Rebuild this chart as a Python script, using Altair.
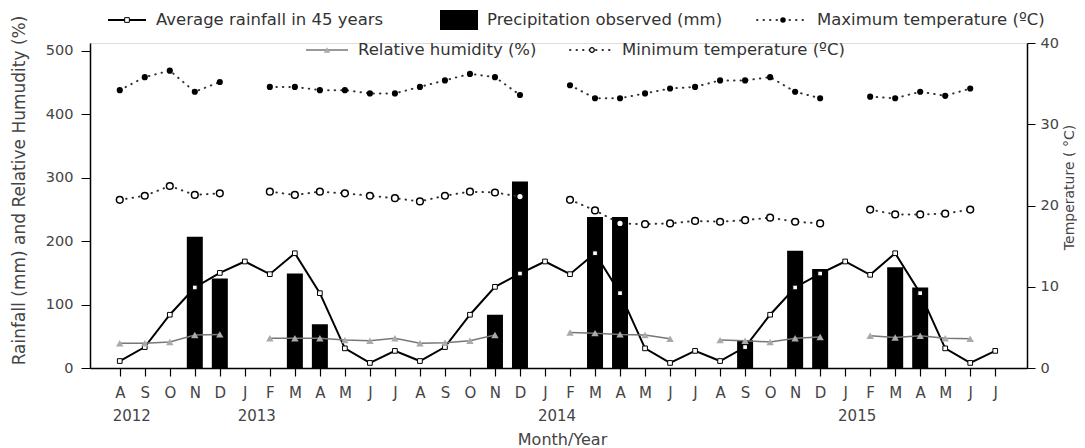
import altair as alt
import pandas as pd

# ---------------- data ----------------
months = ["A", "S", "O", "N", "D",
          "J", "F", "M", "A", "M", "J", "J", "A", "S", "O", "N", "D",
          "J", "F", "M", "A", "M", "J", "J", "A", "S", "O", "N", "D",
          "J", "F", "M", "A", "M", "J", "J"]
years = ["2012", "2013", "2014", "2015"]
year_at = [0, 5, 17, 29]

avg_rain = [11, 33, 84, 127, 150,
            168, 148, 181, 118, 31, 8, 27, 11, 33, 84, 128, 149,
            168, 148, 181, 118, 31, 8, 27, 11, 33, 84, 127, 149,
            168, 147, 181, 118, 31, 8, 27]
precip = [None, None, None, 207, 141,
          None, None, 149, 69, None, None, None, None, None, None, 84, 294,
          None, None, 238, 238, None, None, None, None, 44, None, 185, 156,
          None, None, 159, 127, None, None, None]
max_temp = [34.2, 35.8, 36.6, 34.0, 35.2,
            None, 34.6, 34.6, 34.2, 34.2, 33.8, 33.8, 34.6, 35.4, 36.2, 35.8, 33.6,
            None, 34.8, 33.2, 33.2, 33.8, 34.4, 34.6, 35.4, 35.4, 35.8, 34.0, 33.2,
            None, 33.4, 33.2, 34.0, 33.5, 34.4, None]
min_temp = [20.7, 21.2, 22.4, 21.3, 21.5,
            None, 21.7, 21.3, 21.7, 21.5, 21.2, 20.9, 20.5, 21.2, 21.7, 21.6, 21.1,
            None, 20.7, 19.4, 17.8, 17.7, 17.8, 18.1, 18.0, 18.2, 18.5, 18.0, 17.8,
            None, 19.5, 18.9, 18.9, 19.0, 19.5, None]
rel_hum = [39, 39, 41, 52, 53,
           None, 47, 47, 47, 44, 43, 47, 39, 40, 43, 52, None,
           None, 56, 55, 53, 52, 46, None, 44, 43, 41, 47, 49,
           None, 51, 48, 51, 47, 46, None]

FONT = "DejaVu Sans"
W, H = 937, 325


def series_df(vals):
    rows, seg = [], 0
    for i, v in enumerate(vals):
        if v is None:
            seg += 1
            continue
        rows.append({"k": i, "v": v, "seg": seg})
    return pd.DataFrame(rows)


label_expr = "[" + ",".join("'%s'" % m for m in months) + "][datum.value]"

xscale = alt.Scale(domain=[-0.99, 36.07], nice=False, zero=False)
xaxis = alt.Axis(values=list(range(len(months))), labelExpr=label_expr,
                 tickSize=8, tickColor="black", domainColor="black", domainWidth=1.5,
                 tickWidth=1.2, labelFontSize=15, labelColor="#444", labelPadding=9,
                 labelOverlap=False, labelFlush=False, labelAngle=0, grid=False,
                 title="Month/Year", titleFontSize=16, titleFontWeight="normal",
                 titleColor="#444", titleX=472, titleY=71, titleAlign="center",
                 titleBaseline="middle")


def X():
    return alt.X("k:Q", scale=xscale, axis=xaxis)


yscaleL = alt.Scale(domain=[0, 512.6], nice=False, zero=True)
yaxisL = alt.Axis(values=[0, 100, 200, 300, 400, 500], tickSize=9, tickColor="black",
                  domainColor="black", domainWidth=1.5, labelFontSize=14.5,
                  labelColor="#444", labelPadding=8, grid=False,
                  title="Rainfall (mm) and Relative Humudity (%)", titleFontSize=17,
                  titleFontWeight="normal", titleColor="#444", titleAngle=270,
                  titleX=-71, titleY=147, titleAlign="center", titleBaseline="middle")

yscaleR = alt.Scale(domain=[0, 40], nice=False, zero=True)
yaxisR = alt.Axis(orient="right", values=[0, 10, 20, 30, 40], tickSize=8,
                  tickColor="black", domainColor="black", domainWidth=1.5,
                  labelFontSize=14.5, labelColor="#444", labelPadding=5, grid=False,
                  title="Temperature ( °C)", titleFontSize=14, titleFontWeight="normal",
                  titleColor="#444", titleAngle=270, titleX=42, titleY=144,
                  titleAlign="center", titleBaseline="middle")


def YL():
    return alt.Y("v:Q", scale=yscaleL, axis=yaxisL)


def YR():
    return alt.Y("v:Q", scale=yscaleR, axis=yaxisR)


dotted = dict(strokeDash=[0.5, 6], strokeCap="round", strokeWidth=2, color="#333")

precip_df = series_df(precip)
avg_df = series_df(avg_rain)
rh_df = series_df(rel_hum)
max_df = series_df(max_temp)
min_df = series_df(min_temp)
year_df = pd.DataFrame({"k": year_at, "year": years})

bars = alt.Chart(precip_df).mark_bar(size=16, color="black", orient="vertical").encode(x=X(), y=YL())
avg_line = alt.Chart(avg_df).mark_line(color="black", strokeWidth=2).encode(x=X(), y=YL(), detail="seg:N")
avg_pts = alt.Chart(avg_df).mark_point(shape="square", filled=True, fill="white", stroke="black",
                                       strokeWidth=1, size=22, opacity=1).encode(x=X(), y=YL())
rh_line = alt.Chart(rh_df).mark_line(color="#777", strokeWidth=1.5).encode(x=X(), y=YL(), detail="seg:N")
rh_pts = alt.Chart(rh_df).mark_point(shape="triangle-up", filled=True, color="#aaa", size=55,
                                     opacity=1).encode(x=X(), y=YL())
year_txt = alt.Chart(year_df).mark_text(font=FONT, fontSize=15, color="#444", align="center",
                                        baseline="middle", dx=12, dy=48).encode(
    x=X(), y=alt.value(H), text="year:N")

# ---- custom legend (layout only) ----
one = alt.Data(values=[{"a": 1}])
legend = []


def leg_text(x, y, s):
    return alt.Chart(one).mark_text(font=FONT, fontSize=16.5, color="#333", align="left",
                                    baseline="middle").encode(
        x=alt.value(x), y=alt.value(y), text=alt.value(s))


def leg_rule(x1, x2, y, **kw):
    return alt.Chart(one).mark_rule(**kw).encode(x=alt.value(x1), x2=alt.value(x2), y=alt.value(y))


def leg_pt(x, y, **kw):
    return alt.Chart(one).mark_point(opacity=1, **kw).encode(x=alt.value(x), y=alt.value(y))


r1, r2 = -23, 7
legend += [
    leg_rule(18, 56, r1, color="black", strokeWidth=2),
    leg_pt(37, r1, shape="square", filled=True, fill="white", stroke="black", strokeWidth=1, size=22),
    leg_text(66, r1, "Average rainfall in 45 years"),
    alt.Chart(one).mark_rect(color="black").encode(x=alt.value(350), x2=alt.value(388),
                                                   y=alt.value(-33), y2=alt.value(-13)),
    leg_text(397, r1, "Precipitation observed (mm)"),
    leg_rule(667, 717, r1, **dotted),
    leg_pt(693, r1, shape="circle", filled=True, color="black", size=30),
    leg_text(727, r1, "Maximum temperature (ºC)"),
    leg_rule(216, 258, r2, color="#777", strokeWidth=1.5),
    leg_pt(237, r2, shape="triangle-up", filled=True, color="#aaa", size=40),
    leg_text(268, r2, "Relative humidity (%)"),
    leg_rule(480, 525, r2, **dotted),
    leg_pt(502, r2, shape="circle", filled=True, fill="white", stroke="black", strokeWidth=1.2, size=22),
    leg_text(532, r2, "Minimum temperature (ºC)"),
]

left = alt.layer(bars, avg_line, avg_pts, rh_line, rh_pts, year_txt, *legend)

max_line = alt.Chart(max_df).mark_line(**dotted).encode(x=X(), y=YR(), detail="seg:N")
max_pts = alt.Chart(max_df).mark_point(shape="circle", filled=True, color="black", size=38,
                                       opacity=1).encode(x=X(), y=YR())
min_line = alt.Chart(min_df).mark_line(**dotted).encode(x=X(), y=YR(), detail="seg:N")
min_pts = alt.Chart(min_df).mark_point(shape="circle", filled=True, fill="white", stroke="black",
                                       strokeWidth=1.5, size=45, opacity=1).encode(x=X(), y=YR())
right = alt.layer(max_line, max_pts, min_line, min_pts)

chart = alt.layer(left, right).resolve_scale(y="independent").properties(
    width=W, height=H,
    autosize=alt.AutoSizeParams(type="none"),
    padding={"left": 82, "top": 35, "right": 50, "bottom": 80},
).configure_view(stroke=None).configure(font=FONT)

chart.save("out.html", embed_options={"renderer": "svg", "actions": False})
